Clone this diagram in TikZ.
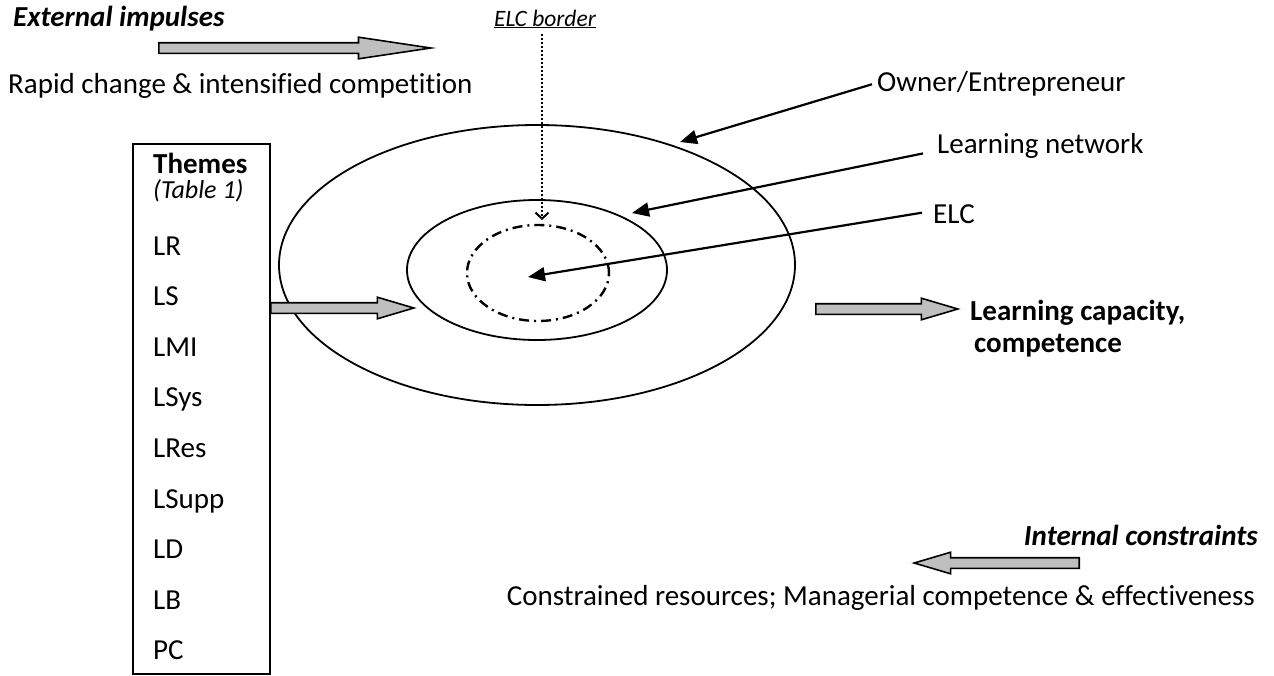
\documentclass[tikz,border=0pt]{standalone}
\usepackage{fontspec}
\setmainfont{Carlito}[Ligatures=NoCommon]
\usepackage{tikz}
\usetikzlibrary{positioning}
\usetikzlibrary{shapes,arrows.meta}
\usetikzlibrary{calc}

\newcommand{\lblfont}{\fontsize{29}{34}\selectfont}

\begin{document}
\begin{tikzpicture}
    [%%%%%%%%%%%%%%%%%%%%%%%%%%%%%%
        x=1pt,y=-1pt,
        fat/.style={single arrow,draw=black,line width=1.6pt,fill=black!25,
            inner xsep=0pt,inner ysep=4.5pt,single arrow head extend=5.5pt,
            single arrow tip angle=33,anchor=tail},
        lbl/.style={inner sep=0pt,font=\lblfont},
        pointer/.style={line width=2.2pt,-{Triangle[length=17pt,width=14pt]}},
        ring/.style={ellipse,draw=black,line width=1.8pt,inner sep=0pt}
    ]%%%%%%%%%%%%%%%%%%%%%%%%%%%%%%
\useasboundingbox (0,0) rectangle (1274,675);

% external impulses
\node[lbl,font=\lblfont\bfseries\itshape,anchor=base west] (ext) at (13,26) {External impulses};
\node[fat,minimum height=272,single arrow tip angle=17] (ext arrow) at (158,48) {};
\node[lbl,anchor=base west] (rapid) at (8,93) {Rapid change \& intensified competition};

% rings
\node[ring,minimum width=516,minimum height=280] (owner ring) at (537,265) {};
\node[ring,minimum width=260,minimum height=140] (network ring) at (537,270) {};
\node[ring,minimum width=142,minimum height=96,line width=2.4pt,
      dash pattern=on 10pt off 5pt on 2pt off 5pt] (elc ring) at (538,273) {};

% ELC border
\node[lbl,font=\fontsize{23.5}{28}\selectfont\itshape,anchor=base] (border) at (545,26) {\underline{ELC border}};
\coordinate (border end) at (542,220);
\draw[line width=2pt,dash pattern=on 2pt off 2pt,-{Straight Barb[length=6pt,width=13pt]}]
    ($(border.south -| border end)+(0,6)$) -- (border end);

% themes
\node[draw=black,line width=1.6pt,minimum width=137,minimum height=530,
      inner sep=0pt,anchor=north west] (themes box) at (132,143) {};
\node[lbl,font=\lblfont\bfseries,anchor=base west] (themes) at (153,173) {Themes};
\node[lbl,font=\fontsize{26}{30}\selectfont\itshape,anchor=base west] (table ref) at (153,198) {(Table 1)};
\foreach \t [count=\i from 0] in {LR,LS,LMI,LSys,LRes,LSupp,LD,LB,PC}
    \node[lbl,anchor=base west] (theme\i) at (153,255+50.6*\i) {\t};

\node[fat,minimum height=143] (in arrow) at (270,308) {};

% pointers
\node[lbl,anchor=base west] (owner) at (877,91) {Owner/Entrepreneur};
\node[lbl,anchor=base west] (network) at (937,153) {Learning network};
\node[lbl,anchor=base west] (elc) at (933,223) {ELC};

\coordinate (owner tip) at (680,142);
\coordinate (network tip) at (632,213);
\coordinate (elc tip) at (528,277);

\draw[pointer] ($(owner.west)+(-5,1)$) -- (owner tip);
\draw[pointer] ($(network.west)+(-14,8)$) -- (network tip);
\draw[pointer] ($(elc.west)+(-11,-1)$) -- (elc tip);

% output
\node[fat,minimum height=142] (out arrow) at (815,309) {};
\node[lbl,font=\lblfont\bfseries,anchor=base west] (capacity) at (970,320) {Learning capacity,};
\node[lbl,font=\lblfont\bfseries,anchor=base west] (competence) at (974,352) {competence};

% internal constraints
\node[lbl,font=\lblfont\bfseries\itshape,anchor=base east] (internal) at (1258,545) {Internal constraints};
\node[fat,minimum height=165,rotate=180] (int arrow) at (1080,563) {};
\node[lbl,anchor=base east] (constrained) at (1255,605) {Constrained resources; Managerial competence \& effectiveness};

\end{tikzpicture}
\end{document}
